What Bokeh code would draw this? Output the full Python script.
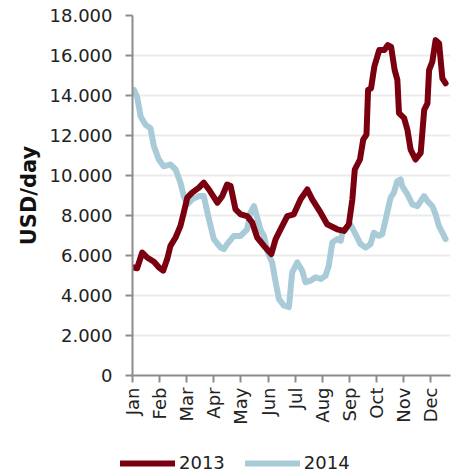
import math
from bokeh.plotting import figure
from bokeh.layouts import column, row
from bokeh.models import Range1d, FixedTicker, Legend, LegendItem
from bokeh.embed import file_html
from bokeh.resources import INLINE

months = ["Jan", "Feb", "Mar", "Apr", "May", "Jun", "Jul", "Aug", "Sep", "Oct", "Nov", "Dec"]
month_ticks = list(range(12))

y_ticks = [0, 2000, 4000, 6000, 8000, 10000, 12000, 14000, 16000, 18000]
y_tick_labels = ["0", "2.000", "4.000", "6.000", "8.000", "10.000", "12.000", "14.000", "16.000", "18.000"]

# x = position in months from 1 January
x2013 = [0.0, 0.17, 0.36, 0.54, 0.79, 0.97, 1.13, 1.28, 1.40, 1.59, 1.77, 1.89, 2.02, 2.20, 2.45,
         2.63, 2.82, 3.13, 3.31, 3.49, 3.62, 3.80, 3.99, 4.23, 4.42, 4.60, 4.85, 5.12, 5.28, 5.46,
         5.71, 5.95, 6.20, 6.45, 6.63, 6.94, 7.18, 7.55, 7.80, 7.98, 8.11, 8.20, 8.39, 8.51, 8.63,
         8.69, 8.80, 8.92, 9.10, 9.29, 9.42, 9.54, 9.67, 9.77, 9.83, 10.02, 10.14, 10.26, 10.44,
         10.63, 10.76, 10.88, 10.94, 11.06, 11.18, 11.31, 11.43, 11.55]
y2013 = [5410, 5360, 6150, 5900, 5690, 5410, 5240, 5820, 6480, 6900, 7480, 8140, 8890, 9140, 9390,
         9640, 9300, 8640, 8970, 9550, 9470, 8310, 8060, 7970, 7640, 6900, 6480, 6070, 6820, 7310,
         7970, 8060, 8810, 9300, 8810, 8140, 7560, 7310, 7230, 7560, 8810, 10300, 10800, 11790, 12040,
         14280, 14360, 15440, 16270, 16270, 16520, 16430, 15270, 14780, 13120, 12870, 12290, 11290, 10800,
         11130, 13280, 13610, 15270, 15690, 16770, 16600, 14860, 14610]

x2014 = [0.05, 0.17, 0.30, 0.48, 0.66, 0.79, 0.97, 1.15, 1.40, 1.59, 1.77, 1.89, 2.02, 2.20, 2.45,
         2.63, 2.82, 3.00, 3.25, 3.37, 3.49, 3.74, 3.99, 4.23, 4.35, 4.48, 4.60, 4.72, 4.85, 4.97,
         5.15, 5.28, 5.40, 5.58, 5.77, 5.89, 6.08, 6.26, 6.38, 6.57, 6.75, 6.94, 7.12, 7.24, 7.37,
         7.55, 7.68, 7.74, 8.04, 8.23, 8.41, 8.60, 8.78, 8.90, 9.09, 9.21, 9.34, 9.52, 9.64, 9.77,
         9.89, 9.95, 10.14, 10.32, 10.51, 10.63, 10.76, 10.88, 11.06, 11.18, 11.30, 11.43, 11.55]
y2014 = [14280, 13940, 12950, 12540, 12370, 11460, 10800, 10460, 10550, 10300, 9640, 8970, 8560, 8810, 8970,
         8970, 7810, 6820, 6400, 6320, 6570, 6980, 6980, 7310, 8140, 8470, 7890, 7310, 6980, 6230,
         5650, 4660, 3830, 3500, 3420, 5160, 5650, 5240, 4660, 4740, 4910, 4830, 4990, 5490, 6650,
         6820, 6730, 7140, 7560, 7060, 6570, 6400, 6570, 7140, 6980, 7060, 7810, 8890, 9140, 9720,
         9800, 9470, 9060, 8560, 8470, 8720, 8970, 8720, 8470, 8060, 7480, 7140, 6820]

series_names = ["2013", "2014"]
c2013 = "#7a0010"
c2014 = "#a9cbd8"
FONT = "DejaVu Sans"
LW = 6

p = figure(width=452, height=427, output_backend="svg", toolbar_location=None,
           x_range=Range1d(0, 11.73), y_range=Range1d(0, 18000),
           min_border_left=132, min_border_top=15, min_border_right=2, min_border_bottom=50)

r14 = p.line(x2014, y2014, line_color=c2014, line_width=LW, line_join="round", line_cap="round")
r13 = p.line(x2013, y2013, line_color=c2013, line_width=LW, line_join="round", line_cap="round")

p.outline_line_color = None
p.xgrid.grid_line_color = None
p.ygrid.grid_line_color = "#ebebeb"
p.ygrid.grid_line_width = 2
p.ygrid.ticker = FixedTicker(ticks=y_ticks)

p.yaxis.ticker = FixedTicker(ticks=y_ticks)
p.yaxis.major_label_overrides = {t: l for t, l in zip(y_ticks, y_tick_labels)}
p.xaxis.ticker = FixedTicker(ticks=month_ticks)
p.xaxis.major_label_overrides = {t: l for t, l in zip(month_ticks, months)}
p.xaxis.major_label_orientation = math.pi / 2

for ax in (p.xaxis, p.yaxis):
    ax.axis_line_color = "#8c8c8c"
    ax.axis_line_width = 2
    ax.major_tick_line_color = "#8c8c8c"
    ax.major_tick_line_width = 2
    ax.major_tick_in = 0
    ax.major_tick_out = 7
    ax.minor_tick_line_color = None
    ax.major_label_text_font = FONT
    ax.major_label_text_font_size = "18px"
    ax.major_label_text_color = "#222222"

p.yaxis.major_label_standoff = 13
p.xaxis.major_label_standoff = 5
p.yaxis.axis_label = "USD/day"
p.yaxis.axis_label_text_font = FONT
p.yaxis.axis_label_text_font_style = "bold"
p.yaxis.axis_label_text_font_size = "21px"
p.yaxis.axis_label_text_color = "#111111"
p.yaxis.axis_label_standoff = 6

# legend strip below the chart
lg = figure(width=452, height=46, output_backend="svg", toolbar_location=None,
            x_range=Range1d(-20, -19), y_range=Range1d(0, 1),
            x_axis_type=None, y_axis_type=None,
            min_border_left=0, min_border_right=0, min_border_top=0, min_border_bottom=0)
lg.outline_line_color = None
lg.xgrid.grid_line_color = None
lg.ygrid.grid_line_color = None
# same series, falling outside this strip's ranges, so only their legend swatches show
l13 = lg.line(x2013, y2013, line_color=c2013, line_width=LW, line_cap="round")
l14 = lg.line(x2014, y2014, line_color=c2014, line_width=LW, line_cap="round")
legend = Legend(items=[LegendItem(label=series_names[0], renderers=[l13]),
                       LegendItem(label=series_names[1], renderers=[l14])],
                location=(120, 0), orientation="horizontal",
                glyph_width=55, glyph_height=14, label_height=14,
                label_standoff=4, spacing=20, padding=0, margin=0,
                border_line_color=None, background_fill_alpha=0,
                label_text_font=FONT, label_text_font_size="18px",
                label_text_color="#222222")
lg.add_layout(legend, "center")

layout = column(p, row(lg, spacing=0), spacing=0)
open("out.html", "w").write(file_html(layout, INLINE))
